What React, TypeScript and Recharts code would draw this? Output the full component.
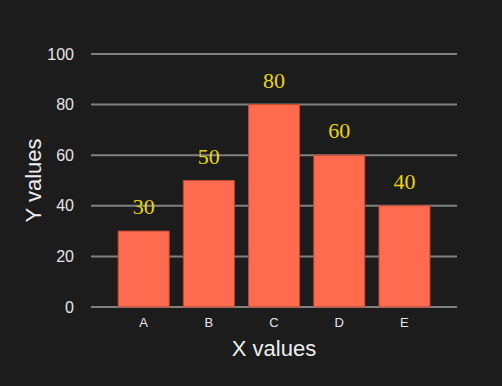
import { BarChart, Bar, XAxis, YAxis, CartesianGrid, LabelList } from 'recharts';

const categories = ['A', 'B', 'C', 'D', 'E'];
const values = [30, 50, 80, 60, 40];
const yTicks = [0, 20, 40, 60, 80, 100];

const data = categories.map((name, i) => ({ name, value: values[i] }));

export default function App() {
  return (
    <div
      style={{
        position: 'fixed',
        top: 0,
        left: 0,
        width: 502,
        height: 386,
        background: '#1c1c1c',
      }}
    >
      <BarChart
        width={502}
        height={386}
        data={data}
        margin={{ top: 54, right: 45, bottom: 0, left: 0 }}
        barCategoryGap="11%"
      >
        <CartesianGrid vertical={false} stroke="#808080" strokeWidth={2} />
        <XAxis
          dataKey="name"
          height={79}
          axisLine={false}
          tickLine={false}
          padding={{ left: 20, right: 20 }}
          tick={{ fill: '#e6e6e6', fontSize: 13, fontFamily: 'Liberation Sans' }}
          tickMargin={5}
          label={{
            value: 'X values',
            position: 'insideTop',
            offset: 33,
            fill: '#eeeeee',
            fontSize: 22,
            fontFamily: 'Liberation Sans',
          }}
        />
        <YAxis
          width={91}
          domain={[0, 100]}
          ticks={yTicks}
          axisLine={false}
          tickLine={false}
          tickMargin={11}
          tick={{ fill: '#e6e6e6', fontSize: 16, fontFamily: 'Liberation Sans' }}
          label={{
            value: 'Y values',
            angle: -90,
            position: 'insideLeft',
            offset: 33,
            fill: '#eeeeee',
            fontSize: 22,
            fontFamily: 'Liberation Sans',
            style: { textAnchor: 'middle' },
          }}
        />
        <Bar
          dataKey="value"
          fill="#ff6b4f"
          stroke="#c0492f"
          strokeWidth={1}
          isAnimationActive={false}
        >
          <LabelList
            dataKey="value"
            position="top"
            offset={17}
            fill="#e8d511"
            fontSize={22}
            fontFamily="Liberation Serif"
          />
        </Bar>
      </BarChart>
    </div>
  );
}
